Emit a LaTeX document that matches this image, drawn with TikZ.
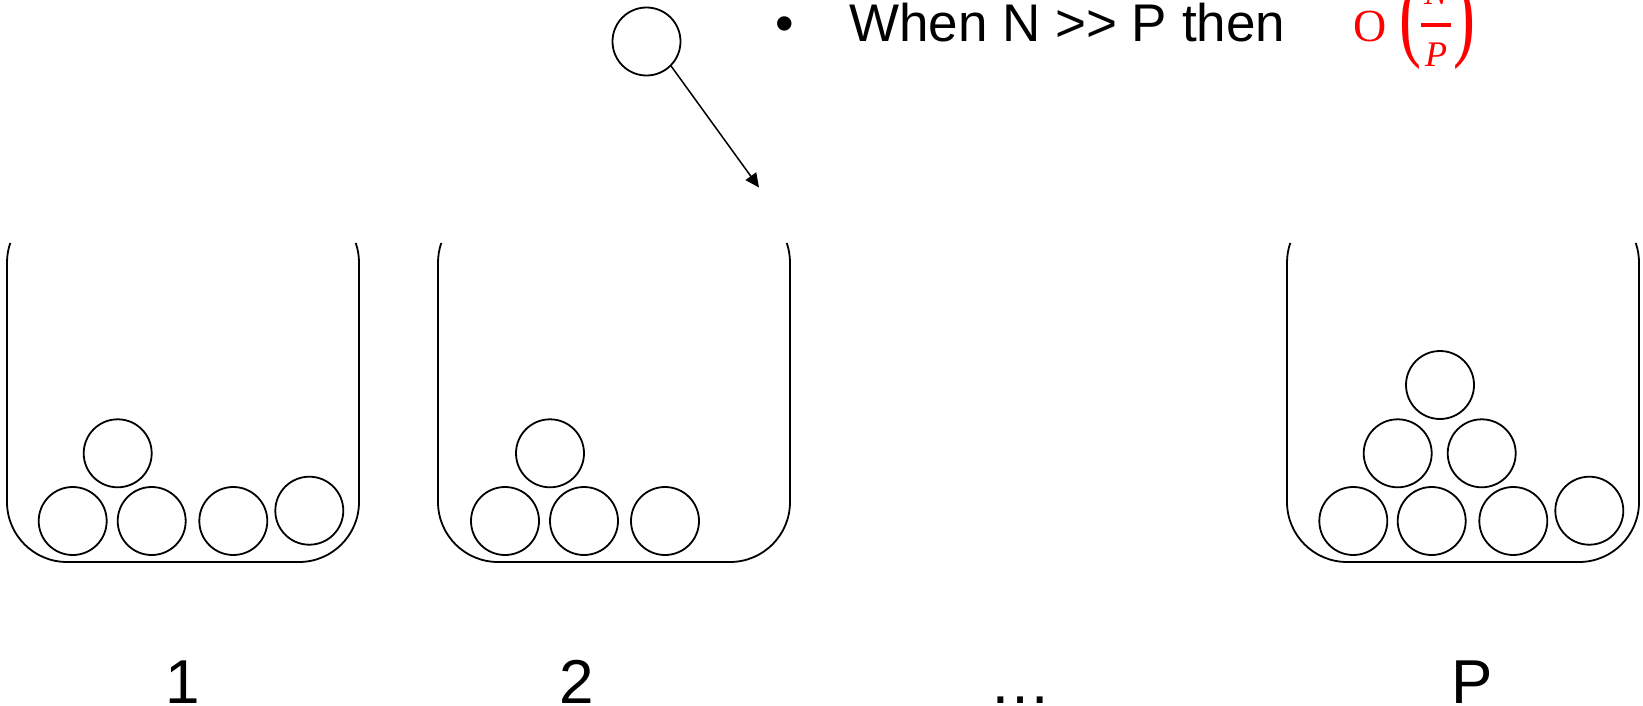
\documentclass[tikz,border=0pt]{standalone}
\usepackage{fontspec}
\setmainfont{Liberation Sans}
\newfontfamily\costfont{Liberation Serif}
\usepackage{graphicx}
\usetikzlibrary{arrows.meta}

\tikzset{
  ball/.style={circle, draw, line width=1.8pt, minimum size=68pt, inner sep=0pt},
  wall/.style={line width=1.8pt, line join=round},
  drop/.style={line width=1.5pt, -{Triangle[length=14pt, width=13pt]}},
  cond/.style={font=\fontsize{53}{60}\selectfont, inner sep=0pt},
  costpart/.style={text=red, inner sep=0pt},
  binlabel/.style={font=\fontsize{62}{70}\selectfont, inner sep=0pt, anchor=base},
  % open-topped bin, 352 wide and 319 deep, origin at its top-left
  bin/.pic={
    \draw[wall] (3.27,0) arc[start angle=161, end angle=180, radius=60]
      -- (0,-259) arc[start angle=180, end angle=270, radius=60]
      -- (292,-319) arc[start angle=270, end angle=360, radius=60]
      -- (352,-19.53) arc[start angle=0, end angle=19, radius=60];
  }
}

% a tall round bracket, stretched upright
\newcommand\tallparen[1]{\scalebox{1}[1.5]{\costfont\fontsize{66}{70}\selectfont #1}}

\begin{document}
\begin{tikzpicture}[x=1pt, y=1pt]
  \useasboundingbox (0,0) rectangle (1643,-706);

  % the three bins
  \pic at (7,-243) {bin};
  \pic at (438,-243) {bin};
  \pic at (1287,-243) {bin};

  % contents of bin 1
  \node[ball] (a1) at (117.7,-453.3) {};
  \node[ball] (a2) at (72.7,-521) {};
  \node[ball] (a3) at (151.7,-521) {};
  \node[ball] (a4) at (233.3,-521) {};
  \node[ball] (a5) at (309.3,-510.7) {};

  % contents of bin 2
  \node[ball] (b1) at (550,-453.3) {};
  \node[ball] (b2) at (505,-521) {};
  \node[ball] (b3) at (584,-521) {};
  \node[ball] (b4) at (665,-521) {};

  % contents of bin P
  \node[ball] (p1) at (1440,-385) {};
  \node[ball] (p2) at (1397.7,-453.3) {};
  \node[ball] (p3) at (1481.7,-453.3) {};
  \node[ball] (p4) at (1353.3,-521) {};
  \node[ball] (p5) at (1431.7,-521) {};
  \node[ball] (p6) at (1513.3,-521) {};
  \node[ball] (p7) at (1589.3,-510.7) {};

  % a ball being thrown into bin 2
  \node[ball] (falling) at (646.5,-41.5) {};
  \coordinate (target) at (759,-187.5);
  \draw[drop] (falling.-45) -- (target);

  % remark
  \node[cond, anchor=base] (dot) at (785,-42) {•};
  \node[cond, anchor=base west] (remark) at (849,-42) {When N >{}> P then};

  % red cost O(N/P)
  \node[costpart, anchor=base west, font=\costfont\fontsize{46}{50}\selectfont] (bigO) at (1353,-42) {O};
  \node[costpart, anchor=center] (lpar) at (1410,-25) {\tallparen{(}};
  \node[costpart, anchor=base, font=\costfont\itshape\fontsize{36}{40}\selectfont] (num) at (1436,-5) {N};
  \node[costpart, anchor=base, font=\costfont\itshape\fontsize{36}{40}\selectfont] (den) at (1436,-67) {P};
  \coordinate (barL) at (1421,-25);
  \coordinate (barR) at (1451,-25);
  \draw[red, line width=3.3pt] (barL) -- (barR);
  \node[costpart, anchor=center] (rpar) at (1464,-25) {\tallparen{)}};

  % bin labels
  \node[binlabel] (l1) at (183,-703) {1};
  \node[binlabel] (l2) at (577,-703) {2};
  \node[binlabel] (ldots) at (1020,-703) {…};
  \node[binlabel] (lp) at (1472,-703) {P};
\end{tikzpicture}
\end{document}
